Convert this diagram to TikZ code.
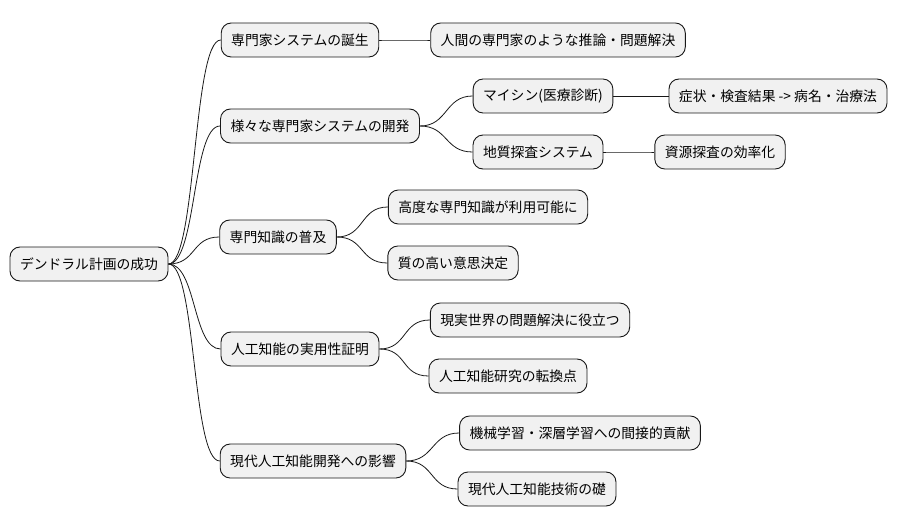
\documentclass[tikz,border=0pt]{standalone}
\usepackage{fontspec}
\setmainfont{Noto Sans CJK JP}
\definecolor{boxfill}{HTML}{F1F1F1}
\definecolor{boxline}{HTML}{181818}
\begin{document}
\begin{tikzpicture}[x=1pt,y=-1pt,
  topic/.style={draw=boxline, fill=boxfill, rounded corners=10pt, line width=0.9pt,
    minimum height=34pt, inner xsep=10pt, font=\fontsize{13.8}{16}\selectfont},
  branch/.style={draw=boxline, line width=0.8pt}]
  \useasboundingbox (0,0) rectangle (903,527);
  % Wurzel
  \node[topic] (root) at (89,264) {デンドラル計画の成功};
  % erste Ebene
  \node[topic] (birth) at (300,40) {専門家システムの誕生};
  \node[topic] (dev) at (320,126) {様々な専門家システムの開発};
  \node[topic] (spread) at (278,237) {専門知識の普及};
  \node[topic] (proof) at (300,349) {人工知能の実用性証明};
  \node[topic] (impact) at (313,461) {現代人工知能開発への影響};
  % zweite Ebene
  \node[topic] (reason) at (558,40) {人間の専門家のような推論・問題解決};
  \node[topic] (mycin) at (543,96) {マイシン(医療診断)};
  \node[topic] (diag) at (778,96) {症状・検査結果 -> 病名・治療法};
  \node[topic] (geo) at (538,152) {地質探査システム};
  \node[topic] (res) at (720,152) {資源探査の効率化};
  \node[topic] (know) at (488,207) {高度な専門知識が利用可能に};
  \node[topic] (dec) at (453,263) {質の高い意思決定};
  \node[topic] (real) at (530,320) {現実世界の問題解決に役立つ};
  \node[topic] (turn) at (508,376) {人工知能研究の転換点};
  \node[topic] (ml) at (580,433) {機械学習・深層学習への間接的貢献};
  \node[topic] (base) at (537,489) {現代人工知能技術の礎};
  % Verbindungen
  \foreach \a/\b in {root/birth,root/dev,root/spread,root/proof,root/impact,
      birth/reason,dev/mycin,dev/geo,mycin/diag,geo/res,spread/know,spread/dec,
      proof/real,proof/turn,impact/ml,impact/base}
    \draw[branch] (\a.east) .. controls +(28,0) and +(-28,0) .. (\b.west);
\end{tikzpicture}
\end{document}
